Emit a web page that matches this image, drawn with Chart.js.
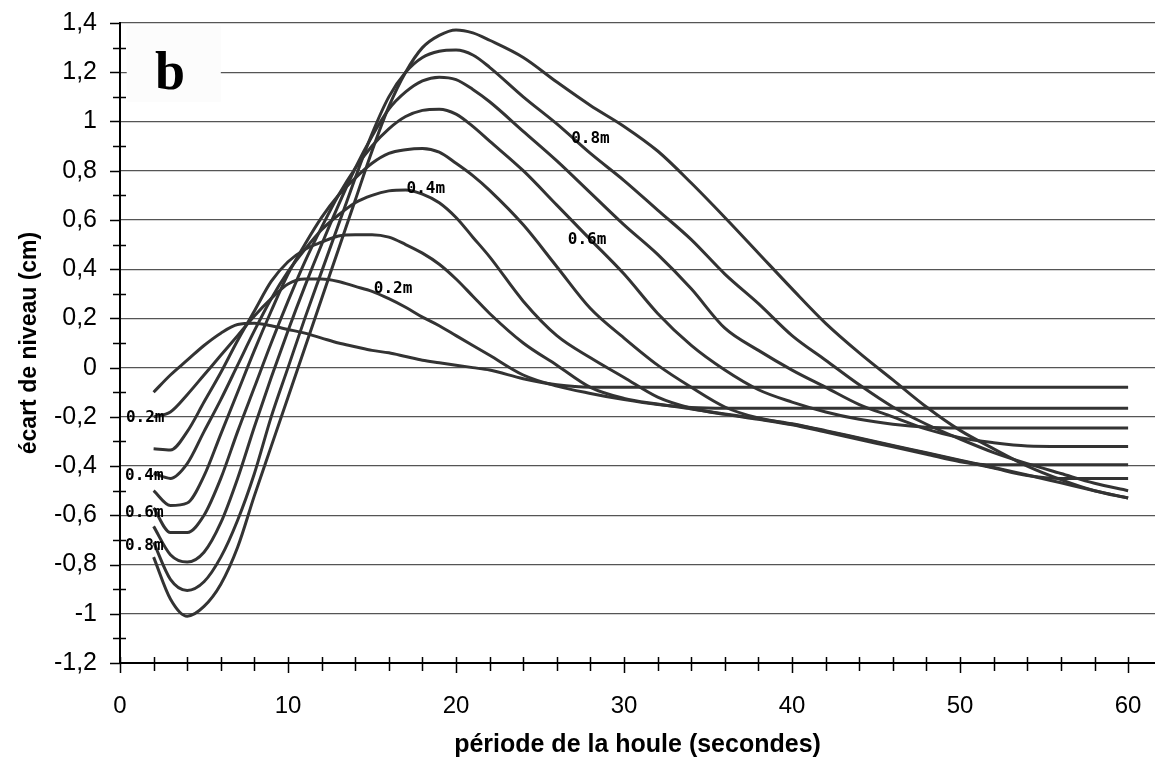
<!DOCTYPE html>
<html lang="fr">
<head>
<meta charset="utf-8">
<title>Écart de niveau</title>
<script src="https://cdn.jsdelivr.net/npm/chart.js@4.4.1/dist/chart.umd.min.js"></script>
<style>
  html, body { margin: 0; padding: 0; background: #fff; }
  canvas { display: block; }
</style>
</head>
<body>
<canvas id="graphique" width="1155" height="767"></canvas>
<script>
// Périodes (s) communes à toutes les courbes
const periodes = [2, 3, 4, 5, 6, 7, 8, 9, 10, 11, 12, 13, 14, 15, 16, 17, 18, 19, 20, 21, 22,
  24, 26, 28, 30, 32, 34, 36, 38, 40, 42, 44, 46, 48, 50, 52, 54, 56, 58, 60];

// Écart de niveau (cm), une liste par hauteur de houle
const ecart01 = [-0.10, -0.03, 0.03, 0.09, 0.14, 0.175, 0.18, 0.17, 0.155, 0.14, 0.12, 0.10, 0.085, 0.07, 0.06, 0.045, 0.03, 0.02, 0.01, 0.0, -0.01,
  -0.045, -0.07, -0.08, -0.08, -0.08, -0.08, -0.08, -0.08, -0.08, -0.08, -0.08, -0.08, -0.08, -0.08, -0.08, -0.08, -0.08, -0.08, -0.08];
const ecart02 = [-0.20, -0.18, -0.11, -0.03, 0.05, 0.13, 0.21, 0.28, 0.34, 0.36, 0.36, 0.35, 0.33, 0.31, 0.28, 0.245, 0.205, 0.17, 0.13, 0.09, 0.05,
  -0.03, -0.075, -0.105, -0.13, -0.15, -0.162, -0.165, -0.165, -0.165, -0.165, -0.165, -0.165, -0.165, -0.165, -0.165, -0.165, -0.165, -0.165, -0.165];
const ecart03 = [-0.33, -0.335, -0.26, -0.14, -0.02, 0.11, 0.23, 0.35, 0.43, 0.48, 0.51, 0.535, 0.54, 0.54, 0.53, 0.50, 0.465, 0.42, 0.36, 0.29, 0.22,
  0.10, 0.01, -0.08, -0.125, -0.148, -0.168, -0.188, -0.208, -0.23, -0.258, -0.288, -0.318, -0.348, -0.378, -0.408, -0.438, -0.45, -0.45, -0.45];
const ecart04 = [-0.43, -0.45, -0.39, -0.26, -0.13, 0.01, 0.15, 0.28, 0.39, 0.48, 0.56, 0.62, 0.67, 0.70, 0.718, 0.722, 0.705, 0.67, 0.61, 0.53, 0.45,
  0.27, 0.13, 0.04, -0.04, -0.12, -0.165, -0.19, -0.21, -0.232, -0.262, -0.292, -0.322, -0.352, -0.382, -0.395, -0.395, -0.395, -0.395, -0.395];
const ecart05 = [-0.50, -0.56, -0.55, -0.44, -0.27, -0.10, 0.07, 0.23, 0.38, 0.50, 0.61, 0.70, 0.77, 0.83, 0.87, 0.885, 0.89, 0.875, 0.83, 0.78, 0.72,
  0.58, 0.41, 0.24, 0.12, 0.01, -0.08, -0.16, -0.205, -0.228, -0.256, -0.286, -0.316, -0.346, -0.376, -0.406, -0.436, -0.468, -0.50, -0.53];
const ecart06 = [-0.57, -0.67, -0.67, -0.60, -0.45, -0.26, -0.08, 0.10, 0.27, 0.43, 0.57, 0.70, 0.81, 0.90, 0.97, 1.02, 1.045, 1.05, 1.03, 0.98, 0.92,
  0.80, 0.66, 0.52, 0.38, 0.22, 0.09, -0.01, -0.09, -0.14, -0.18, -0.21, -0.23, -0.242, -0.245, -0.245, -0.245, -0.245, -0.245, -0.245];
const ecart07 = [-0.645, -0.76, -0.79, -0.75, -0.63, -0.45, -0.24, -0.04, 0.15, 0.33, 0.50, 0.66, 0.81, 0.94, 1.05, 1.12, 1.165, 1.18, 1.17, 1.13, 1.08,
  0.96, 0.84, 0.71, 0.58, 0.46, 0.32, 0.16, 0.07, -0.01, -0.08, -0.15, -0.20, -0.25, -0.285, -0.305, -0.318, -0.32, -0.32, -0.32];
const ecart08 = [-0.71, -0.86, -0.905, -0.87, -0.77, -0.62, -0.43, -0.20, 0.00, 0.20, 0.39, 0.58, 0.77, 0.95, 1.10, 1.20, 1.26, 1.285, 1.29, 1.27, 1.22,
  1.10, 0.99, 0.87, 0.76, 0.64, 0.52, 0.38, 0.26, 0.13, 0.03, -0.07, -0.16, -0.23, -0.29, -0.345, -0.39, -0.43, -0.47, -0.50];
const ecart09 = [-0.77, -0.94, -1.01, -0.97, -0.88, -0.73, -0.52, -0.32, -0.12, 0.08, 0.28, 0.48, 0.68, 0.88, 1.06, 1.20, 1.30, 1.35, 1.372, 1.36, 1.33,
  1.26, 1.16, 1.065, 0.98, 0.88, 0.75, 0.61, 0.465, 0.32, 0.18, 0.06, -0.05, -0.16, -0.255, -0.33, -0.40, -0.455, -0.50, -0.53];

// Graduations
const ticksX = [0, 10, 20, 30, 40, 50, 60];
const ticksY = [-1.2, -1.0, -0.8, -0.6, -0.4, -0.2, 0, 0.2, 0.4, 0.6, 0.8, 1.0, 1.2, 1.4];

// Étiquettes posées sur les courbes (en unités des axes)
const etiquettes = [
  { texte: "0.2m", x: 1.5, y: -0.205 },
  { texte: "0.4m", x: 1.45, y: -0.44 },
  { texte: "0.6m", x: 1.45, y: -0.59 },
  { texte: "0.8m", x: 1.45, y: -0.725 },
  { texte: "0.2m", x: 16.25, y: 0.32 },
  { texte: "0.4m", x: 18.2, y: 0.725 },
  { texte: "0.6m", x: 27.8, y: 0.52 },
  { texte: "0.8m", x: 28.0, y: 0.93 },
];

const POLICE = "'Liberation Sans', Arial, sans-serif";

function serie(valeurs) {
  return {
    data: periodes.map((p, i) => ({ x: p, y: valeurs[i] })),
    borderColor: "#333333",
    borderWidth: 3,
    pointRadius: 0,
    cubicInterpolationMode: "monotone",
    fill: false,
  };
}

function formatVirgule(v) {
  const r = Math.round(v * 10) / 10;
  return String(r).replace(".", ",");
}

// Cadre blanc avec la lettre "b", étiquettes des courbes et petites graduations
const decor = {
  id: "decor",
  beforeDatasetsDraw(chart) {
    const { ctx, scales } = chart;
    const x1 = scales.x.getPixelForValue(0.4), x2 = scales.x.getPixelForValue(6.0);
    const y1 = scales.y.getPixelForValue(1.39), y2 = scales.y.getPixelForValue(1.08);
    ctx.save();
    ctx.fillStyle = "#fcfcfc";
    ctx.fillRect(x1, y1, x2 - x1, y2 - y1);
    ctx.fillStyle = "#000";
    ctx.font = "bold 54px 'Liberation Serif', 'Times New Roman', serif";
    ctx.textAlign = "center";
    ctx.textBaseline = "alphabetic";
    ctx.fillText("b", scales.x.getPixelForValue(2.98), scales.y.getPixelForValue(1.13));
    ctx.restore();
  },
  afterDatasetsDraw(chart) {
    const { ctx, scales } = chart;
    ctx.save();
    ctx.fillStyle = "#000";
    ctx.font = "bold 16px 'DejaVu Sans Mono', monospace";
    ctx.textAlign = "center";
    ctx.textBaseline = "middle";
    etiquettes.forEach((e) => {
      ctx.fillText(e.texte, scales.x.getPixelForValue(e.x), scales.y.getPixelForValue(e.y));
    });
    ctx.restore();
  },
  afterDraw(chart) {
    const { ctx, scales } = chart;
    const bas = scales.y.bottom, gauche = scales.x.left;
    ctx.save();
    ctx.strokeStyle = "#000";
    ctx.lineWidth = 1.5;
    ctx.beginPath();
    for (let v = 0; v <= 60; v += 2) {
      const px = Math.round(scales.x.getPixelForValue(v)) + 0.5;
      ctx.moveTo(px, bas - 6);
      ctx.lineTo(px, bas + (v % 10 === 0 ? 10 : 8));
    }
    for (let k = -12; k <= 14; k++) {
      const py = Math.round(scales.y.getPixelForValue(k / 10)) + 0.5;
      if (k % 2 === 0) {
        ctx.moveTo(gauche - 10, py);
        ctx.lineTo(gauche, py);
      } else {
        ctx.moveTo(gauche - 7, py);
        ctx.lineTo(gauche + 6, py);
      }
    }
    ctx.stroke();
    ctx.restore();
  },
};

function genererGraphique() {
  const ctx = document.getElementById("graphique").getContext("2d");
  new Chart(ctx, {
    type: "line",
    data: {
      datasets: [ecart01, ecart02, ecart03, ecart04, ecart05, ecart06, ecart07, ecart08, ecart09].map(serie),
    },
    options: {
      responsive: false,
      animation: false,
      events: [],
      layout: { padding: { top: 23, right: 0, left: 0, bottom: 0 } },
      plugins: { legend: { display: false }, tooltip: { enabled: false } },
      scales: {
        x: {
          type: "linear",
          min: 0,
          max: 61.6,
          afterBuildTicks: (s) => { s.ticks = ticksX.map((v) => ({ value: v })); },
          afterFit: (s) => {
            s.height = 104;
            s.paddingLeft = 0;
            s.paddingRight = 0;
          },
          grid: { display: true, drawOnChartArea: false, drawTicks: false },
          border: { display: true, color: "#000", width: 2 },
          ticks: { font: { family: POLICE, size: 24 }, color: "#000", padding: 29, maxRotation: 0, autoSkip: false },
          title: {
            display: true,
            text: "période de la houle (secondes)",
            font: { family: POLICE, size: 25, weight: "bold" },
            color: "#000",
            padding: { top: 0, bottom: 7 },
          },
        },
        y: {
          type: "linear",
          min: -1.2,
          max: 1.4,
          afterBuildTicks: (s) => { s.ticks = ticksY.map((v) => ({ value: v })); },
          afterFit: (s) => {
            s.width = 120;
            s.paddingTop = 0;
            s.paddingBottom = 0;
          },
          grid: { color: "#555", lineWidth: 1.3, drawTicks: false },
          border: { display: true, color: "#000", width: 2 },
          ticks: { font: { family: POLICE, size: 25 }, color: "#000", padding: 23, callback: formatVirgule },
          title: {
            display: true,
            text: "écart de niveau (cm)",
            font: { family: POLICE, size: 23, weight: "bold" },
            color: "#000",
            padding: { top: 16, bottom: 0 },
          },
        },
      },
    },
    plugins: [decor],
  });
}

document.addEventListener("DOMContentLoaded", genererGraphique);
</script>
</body>
</html>
